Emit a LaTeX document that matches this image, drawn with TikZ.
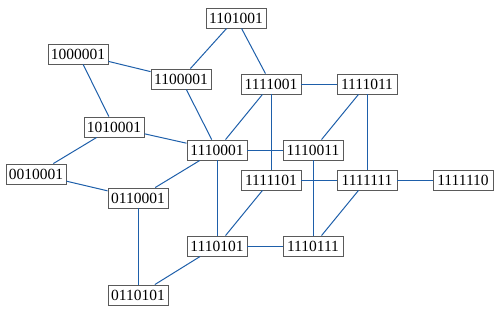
\documentclass[tikz,border=0pt]{standalone}
\usepackage{fontspec}
\setmainfont{Liberation Serif}
\definecolor{edgeblue}{RGB}{30,95,170}
\definecolor{boxgray}{RGB}{90,90,90}
\begin{document}
\begin{tikzpicture}[x=1pt,y=-1pt,
  vbox/.style={draw=boxgray,line width=0.9pt,fill=white,inner xsep=2pt,inner ysep=0pt,
    minimum width=60pt,minimum height=20pt,font=\fontsize{15.5}{16}\selectfont},
  link/.style={edgeblue,line width=1pt}]
\useasboundingbox (0,0) rectangle (500,314);
\node[vbox] (a) at (236,18) {1101001};
\node[vbox] (b) at (78,54) {1000001};
\node[vbox] (c) at (181,79) {1100001};
\node[vbox] (d) at (271,84) {1111001};
\node[vbox] (e) at (367,84) {1111011};
\node[vbox] (f) at (114,127) {1010001};
\node[vbox] (g) at (217,150) {1110001};
\node[vbox] (h) at (313,150) {1110011};
\node[vbox] (i) at (36,174) {0010001};
\node[vbox] (j) at (271,180) {1111101};
\node[vbox] (k) at (367,180) {1111111};
\node[vbox] (l) at (463,180) {1111110};
\node[vbox] (m) at (138,198) {0110001};
\node[vbox] (n) at (217,246) {1110101};
\node[vbox] (o) at (313,246) {1110111};
\node[vbox] (p) at (138,295) {0110101};
\draw[link] (a) -- (c);
\draw[link] (a) -- (d);
\draw[link] (b) -- (c);
\draw[link] (b) -- (f);
\draw[link] (c) -- (g);
\draw[link] (d) -- (e);
\draw[link] (d) -- (g);
\draw[link] (d) -- (j);
\draw[link] (e) -- (h);
\draw[link] (e) -- (k);
\draw[link] (f) -- (g);
\draw[link] (f) -- (i);
\draw[link] (g) -- (h);
\draw[link] (g) -- (m);
\draw[link] (g) -- (n);
\draw[link] (i) -- (m);
\draw[link] (h) -- (o);
\draw[link] (j) -- (k);
\draw[link] (j) -- (n);
\draw[link] (k) -- (l);
\draw[link] (k) -- (o);
\draw[link] (m) -- (p);
\draw[link] (n) -- (o);
\draw[link] (n) -- (p);
\end{tikzpicture}
\end{document}
